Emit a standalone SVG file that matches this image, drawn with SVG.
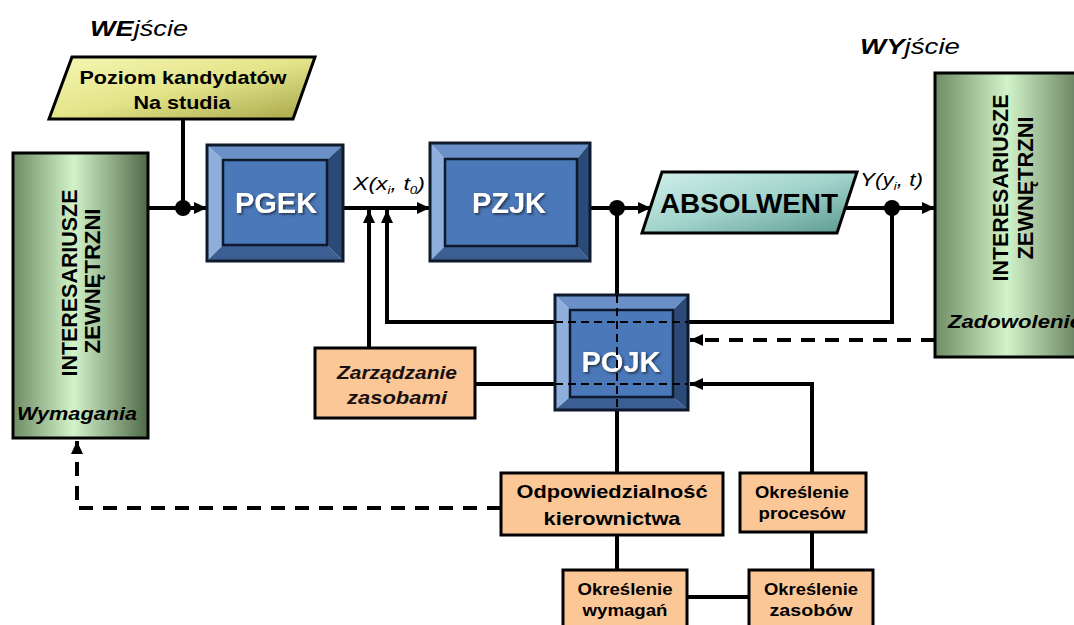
<svg xmlns="http://www.w3.org/2000/svg" width="1074" height="625" viewBox="0 0 1074 625">
<defs>
<linearGradient id="gGreen" x1="0" y1="0" x2="1" y2="0">
<stop offset="0" stop-color="#6f8c64"/>
<stop offset="0.45" stop-color="#d2f3ca"/>
<stop offset="1" stop-color="#4f6947"/>
</linearGradient>
<linearGradient id="gYellow" x1="0" y1="0" x2="1" y2="1">
<stop offset="0" stop-color="#f6f6b4"/>
<stop offset="0.5" stop-color="#e4e48a"/>
<stop offset="1" stop-color="#a6a648"/>
</linearGradient>
<linearGradient id="gTeal" x1="0" y1="0" x2="1" y2="1">
<stop offset="0" stop-color="#d2f0ec"/>
<stop offset="0.5" stop-color="#a2d4cc"/>
<stop offset="1" stop-color="#5a9890"/>
</linearGradient>
<filter id="shadow" x="-20%" y="-20%" width="140%" height="140%">
<feDropShadow dx="1.5" dy="1.5" stdDeviation="0.8" flood-color="#1a2a40" flood-opacity="0.9"/>
</filter>
<marker id="arr" markerUnits="userSpaceOnUse" markerWidth="14" markerHeight="12" refX="13" refY="6" orient="auto">
<path d="M0,0 L13,6 L0,12 z" fill="#000"/>
</marker>
</defs>
<style>
.ln{fill:none;stroke:#000;stroke-width:4}
.dash{fill:none;stroke:#000;stroke-width:4;stroke-dasharray:14 10}
.idash{fill:none;stroke:#000;stroke-width:2;stroke-dasharray:8 5}
.dot{fill:#000}
.stake{fill:url(#gGreen);stroke:#000;stroke-width:3}
.orange{fill:#fbc797;stroke:#000;stroke-width:3}
.bt{fill:#6b90c8}.bl{fill:#8eaedb}.bb{fill:#3b5e93}.br{fill:#2b4a78}
.bc{fill:#4a78b8;stroke:#0e1a2c;stroke-width:2.5}
.bo{fill:none;stroke:#0e1a2c;stroke-width:3}
.f{font-family:"Liberation Sans",Arial,sans-serif}
.bold{font-weight:bold}
.it{font-style:italic}
.mid{text-anchor:middle}
.proc{font-family:"Liberation Sans",Arial,sans-serif;font-weight:bold;font-size:29px;fill:#fff;text-anchor:middle;filter:url(#shadow)}
</style>

<text class="f it" x="90" y="36" font-size="22" textLength="98" lengthAdjust="spacingAndGlyphs"><tspan class="bold">WE</tspan>jście</text>
<text class="f it" x="860" y="54" font-size="22" textLength="100" lengthAdjust="spacingAndGlyphs"><tspan class="bold">WY</tspan>jście</text>

<g id="connectors">
<line class="ln" x1="148" y1="208" x2="207" y2="208" marker-end="url(#arr)"/>
<line class="ln" x1="183" y1="119" x2="183" y2="208"/>
<line class="ln" x1="343" y1="208" x2="430" y2="208" marker-end="url(#arr)"/>
<line class="ln" x1="369" y1="348" x2="369" y2="210" marker-end="url(#arr)"/>
<polyline class="ln" points="892,208 892,322 387,322 387,210" marker-end="url(#arr)"/>
<line class="ln" x1="590" y1="208" x2="651" y2="208" marker-end="url(#arr)"/>
<line class="ln" x1="617" y1="208" x2="617" y2="295"/>
<line class="ln" x1="845" y1="208" x2="935" y2="208" marker-end="url(#arr)"/>
<line class="dash" x1="935" y1="340" x2="690" y2="340" marker-end="url(#arr)"/>
<line class="ln" x1="475" y1="384" x2="555" y2="384"/>
<line class="ln" x1="617" y1="410" x2="617" y2="473"/>
<polyline class="ln" points="812,473 812,384 690,384" marker-end="url(#arr)"/>
<line class="ln" x1="617" y1="535" x2="617" y2="570"/>
<line class="ln" x1="812" y1="532" x2="812" y2="570"/>
<line class="ln" x1="687" y1="597" x2="749" y2="597"/>
<polyline class="dash" points="501,508 77,508 77,441" marker-end="url(#arr)"/>
<circle class="dot" cx="183" cy="208" r="8"/>
<circle class="dot" cx="617" cy="208" r="8"/>
<circle class="dot" cx="892" cy="208" r="8"/>
<text class="f it" x="353" y="190" font-size="19" textLength="72" lengthAdjust="spacingAndGlyphs">X(x<tspan font-size="11" dy="4">i</tspan><tspan dy="-4">, t</tspan><tspan font-size="11" dy="4">0</tspan><tspan dy="-4">)</tspan></text>
<text class="f it" x="860" y="186" font-size="19" textLength="63" lengthAdjust="spacingAndGlyphs">Y(y<tspan font-size="11" dy="4">i</tspan><tspan dy="-4">, t)</tspan></text>
</g>

<g id="stakeholders-left">
<rect class="stake" x="13" y="153" width="135" height="285"/>
<text class="f bold mid" font-size="22" transform="translate(77,283) rotate(-90)" textLength="187" lengthAdjust="spacingAndGlyphs">INTERESARIUSZE</text>
<text class="f bold mid" font-size="22" transform="translate(100,281) rotate(-90)" textLength="145" lengthAdjust="spacingAndGlyphs">ZEWNĘTRZNI</text>
<text class="f bold it" x="17" y="420" font-size="19" textLength="120" lengthAdjust="spacingAndGlyphs">Wymagania</text>
</g>

<g id="stakeholders-right">
<rect class="stake" x="935" y="73" width="160" height="284"/>
<text class="f bold mid" font-size="22" transform="translate(1008,188) rotate(-90)" textLength="187" lengthAdjust="spacingAndGlyphs">INTERESARIUSZE</text>
<text class="f bold mid" font-size="22" transform="translate(1033,188) rotate(-90)" textLength="143" lengthAdjust="spacingAndGlyphs">ZEWNĘTRZNI</text>
<text class="f bold it" x="948" y="328" font-size="19" textLength="134" lengthAdjust="spacingAndGlyphs">Zadowolenie</text>
</g>

<g id="input">
<polygon points="72,57 315,57 293,119 49,119" fill="url(#gYellow)" stroke="#000" stroke-width="3"/>
<text class="f bold mid" x="183" y="84" font-size="19" textLength="207" lengthAdjust="spacingAndGlyphs">Poziom kandydatów</text>
<text class="f bold mid" x="182" y="109" font-size="19" textLength="97" lengthAdjust="spacingAndGlyphs">Na studia</text>
</g>

<g id="PGEK">
<polygon class="bt" points="207,145 343,145 327,160 223,160"/>
<polygon class="bl" points="207,145 223,160 223,245 207,261"/>
<polygon class="bb" points="207,261 223,245 327,245 343,261"/>
<polygon class="br" points="343,145 343,261 327,245 327,160"/>
<rect class="bc" x="223" y="160" width="104" height="85"/>
<rect class="bo" x="207" y="145" width="136" height="116"/>
<text class="proc" x="276" y="213">PGEK</text>
</g>

<g id="PZJK">
<polygon class="bt" points="430,143 590,143 577,159 445,159"/>
<polygon class="bl" points="430,143 445,159 445,246 430,261"/>
<polygon class="bb" points="430,261 445,246 577,246 590,261"/>
<polygon class="br" points="590,143 590,261 577,246 577,159"/>
<rect class="bc" x="445" y="159" width="132" height="87"/>
<rect class="bo" x="430" y="143" width="160" height="118"/>
<text class="proc" x="509" y="213">PZJK</text>
</g>

<g id="absolwent">
<polygon points="662,172 857,172 837,233 642,233" fill="url(#gTeal)" stroke="#000" stroke-width="3"/>
<text class="f bold mid" x="749" y="213" font-size="27" textLength="178" lengthAdjust="spacingAndGlyphs">ABSOLWENT</text>
</g>

<g id="POJK">
<polygon class="bt" points="555,295 688,295 673,310 570,310"/>
<polygon class="bl" points="555,295 570,310 570,397 555,410"/>
<polygon class="bb" points="555,410 570,397 673,397 688,410"/>
<polygon class="br" points="688,295 688,410 673,397 673,310"/>
<rect class="bc" x="570" y="310" width="103" height="87"/>
<rect class="bo" x="555" y="295" width="133" height="115"/>
<text class="proc" x="621" y="372">POJK</text>
<line class="idash" x1="555" y1="322" x2="688" y2="322"/>
<line class="idash" x1="555" y1="384" x2="688" y2="384"/>
<line class="idash" x1="617" y1="295" x2="617" y2="410"/>
</g>

<g id="zarzadzanie">
<rect class="orange" x="315" y="348" width="160" height="70"/>
<text class="f bold it mid" x="397" y="379" font-size="19" fill="#1a1010" textLength="120" lengthAdjust="spacingAndGlyphs">Zarządzanie</text>
<text class="f bold it mid" x="397" y="404" font-size="19" fill="#1a1010" textLength="100" lengthAdjust="spacingAndGlyphs">zasobami</text>
</g>

<g id="odpowiedzialnosc">
<rect class="orange" x="501" y="473" width="222" height="62"/>
<text class="f bold mid" x="612" y="498" font-size="19" textLength="191" lengthAdjust="spacingAndGlyphs">Odpowiedzialność</text>
<text class="f bold mid" x="612" y="525" font-size="19" textLength="137" lengthAdjust="spacingAndGlyphs">kierownictwa</text>
</g>

<g id="procesy">
<rect class="orange" x="740" y="473" width="126" height="59"/>
<text class="f bold mid" x="802" y="498" font-size="17" textLength="94" lengthAdjust="spacingAndGlyphs">Określenie</text>
<text class="f bold mid" x="802" y="519" font-size="17" textLength="87" lengthAdjust="spacingAndGlyphs">procesów</text>
</g>

<g id="wymagania">
<rect class="orange" x="563" y="570" width="124" height="62"/>
<text class="f bold mid" x="625" y="595" font-size="17" textLength="95" lengthAdjust="spacingAndGlyphs">Określenie</text>
<text class="f bold mid" x="625" y="616" font-size="17" textLength="85" lengthAdjust="spacingAndGlyphs">wymagań</text>
</g>

<g id="zasoby">
<rect class="orange" x="749" y="570" width="124" height="62"/>
<text class="f bold mid" x="811" y="595" font-size="17" textLength="94" lengthAdjust="spacingAndGlyphs">Określenie</text>
<text class="f bold mid" x="811" y="616" font-size="17" textLength="83" lengthAdjust="spacingAndGlyphs">zasobów</text>
</g>
</svg>
